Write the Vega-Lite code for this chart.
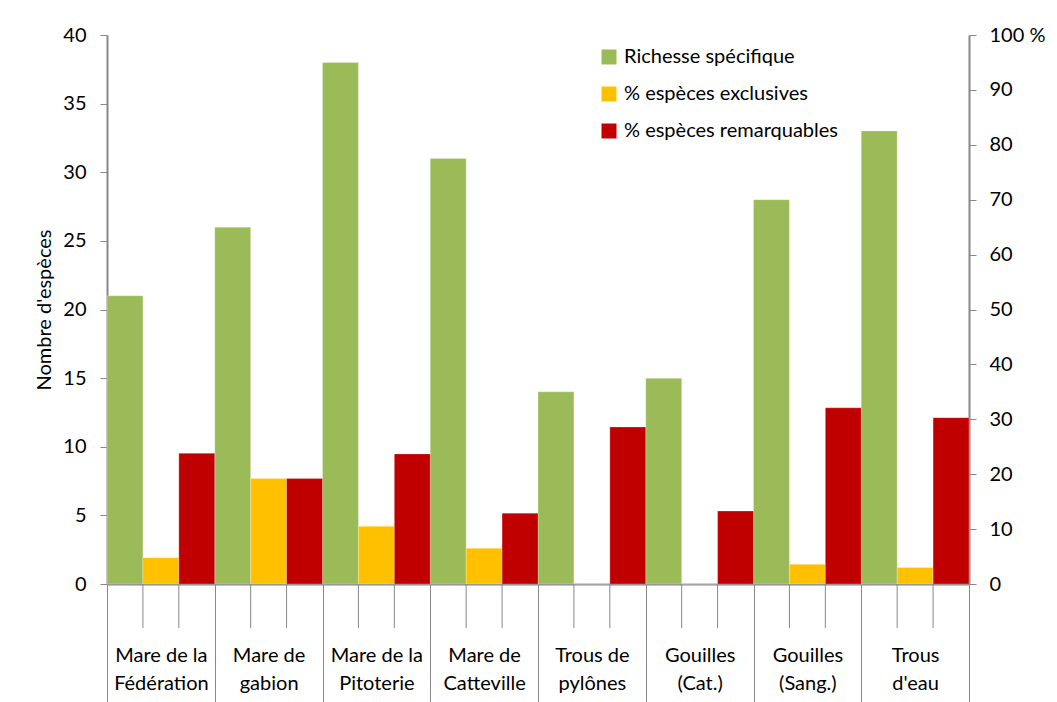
{
  "$schema": "https://vega.github.io/schema/vega-lite/v6.json",
  "width": 862,
  "height": 549,
  "autosize": {"type": "none"},
  "padding": {"left": 107, "top": 35, "right": 88, "bottom": 118},
  "background": "white",
  "config": {
    "font": "Lato",
    "view": {"stroke": null},
    "axis": {"labelColor": "#000", "titleColor": "#000", "domainColor": "#888", "tickColor": "#888", "grid": false, "labelFont": "Lato", "titleFont": "Lato"}
  },
  "data": {
    "values": [
      {"site": "Mare de la|Fédération", "serie": "Richesse spécifique", "valeur": 21},
      {"site": "Mare de la|Fédération", "serie": "% espèces  exclusives", "valeur": 4.8},
      {"site": "Mare de la|Fédération", "serie": "% espèces  remarquables", "valeur": 23.8},
      {"site": "Mare de|gabion", "serie": "Richesse spécifique", "valeur": 26},
      {"site": "Mare de|gabion", "serie": "% espèces  exclusives", "valeur": 19.2},
      {"site": "Mare de|gabion", "serie": "% espèces  remarquables", "valeur": 19.2},
      {"site": "Mare de la|Pitoterie", "serie": "Richesse spécifique", "valeur": 38},
      {"site": "Mare de la|Pitoterie", "serie": "% espèces  exclusives", "valeur": 10.5},
      {"site": "Mare de la|Pitoterie", "serie": "% espèces  remarquables", "valeur": 23.7},
      {"site": "Mare de|Catteville", "serie": "Richesse spécifique", "valeur": 31},
      {"site": "Mare de|Catteville", "serie": "% espèces  exclusives", "valeur": 6.5},
      {"site": "Mare de|Catteville", "serie": "% espèces  remarquables", "valeur": 12.9},
      {"site": "Trous de|pylônes", "serie": "Richesse spécifique", "valeur": 14},
      {"site": "Trous de|pylônes", "serie": "% espèces  exclusives", "valeur": 0},
      {"site": "Trous de|pylônes", "serie": "% espèces  remarquables", "valeur": 28.6},
      {"site": "Gouilles|(Cat.)", "serie": "Richesse spécifique", "valeur": 15},
      {"site": "Gouilles|(Cat.)", "serie": "% espèces  exclusives", "valeur": 0},
      {"site": "Gouilles|(Cat.)", "serie": "% espèces  remarquables", "valeur": 13.3},
      {"site": "Gouilles|(Sang.)", "serie": "Richesse spécifique", "valeur": 28},
      {"site": "Gouilles|(Sang.)", "serie": "% espèces  exclusives", "valeur": 3.6},
      {"site": "Gouilles|(Sang.)", "serie": "% espèces  remarquables", "valeur": 32.1},
      {"site": "Trous|d'eau", "serie": "Richesse spécifique", "valeur": 33},
      {"site": "Trous|d'eau", "serie": "% espèces  exclusives", "valeur": 3.0},
      {"site": "Trous|d'eau", "serie": "% espèces  remarquables", "valeur": 30.3}
    ]
  },
  "encoding": {
    "x": {
      "field": "site",
      "type": "nominal",
      "sort": null,
      "scale": {"paddingInner": 0, "paddingOuter": 0},
      "axis": {
        "title": null,
        "labelAngle": 0,
        "tickBand": "extent",
        "tickSize": 118,
        "tickWidth": 1,
        "domainWidth": 2,
        "labelExpr": "split(datum.label, '|')",
        "labelFontSize": 20,
        "labelLineHeight": 28,
        "labelPadding": -57,
        "labelBaseline": "top",
        "labelOverlap": false,
        "labelBound": false,
        "labelLimit": 0
      }
    },
    "color": {
      "field": "serie",
      "type": "nominal",
      "scale": {"domain": ["Richesse spécifique", "% espèces  exclusives", "% espèces  remarquables"], "range": ["#9BBB59", "#FFC000", "#C00000"]},
      "legend": {
        "title": null,
        "orient": "none",
        "legendX": 492,
        "legendY": 12,
        "symbolType": "square",
        "symbolSize": 225,
        "symbolStrokeWidth": 0,
        "labelFontSize": 20,
        "labelFont": "Lato",
        "labelColor": "#000",
        "labelOffset": 5,
        "rowPadding": 17,
        "labelLimit": 0
      }
    }
  },
  "layer": [
    {
      "transform": [{"filter": "datum.serie == 'Richesse spécifique'"}],
      "mark": {"type": "bar", "stroke": "#fff", "strokeWidth": 0.5, "strokeOpacity": 0.5},
      "encoding": {
        "xOffset": {
          "field": "serie",
          "type": "nominal",
          "scale": {"domain": ["Richesse spécifique", "% espèces  exclusives", "% espèces  remarquables"], "paddingInner": 0, "paddingOuter": 0}
        },
        "y": {
          "field": "valeur",
          "type": "quantitative",
          "scale": {"domain": [0, 40]},
          "axis": {
            "orient": "left",
            "values": [0, 5, 10, 15, 20, 25, 30, 35, 40],
            "title": "Nombre d'espèces",
            "titleFontSize": 20,
            "titleFontWeight": "normal",
            "titlePadding": 8,
            "labelFontSize": 20,
            "labelPadding": 14,
            "tickSize": 7,
            "domainWidth": 2
          }
        }
      }
    },
    {
      "transform": [{"filter": "datum.serie != 'Richesse spécifique'"}],
      "encoding": {
        "y": {
          "field": "valeur",
          "type": "quantitative",
          "scale": {"domain": [0, 100]},
          "axis": {
            "orient": "right",
            "values": [0, 10, 20, 30, 40, 50, 60, 70, 80, 90, 100],
            "title": null,
            "labelFontSize": 20,
            "labelPadding": 13,
            "tickSize": 7,
            "domainWidth": 2,
            "labelExpr": "datum.value == 100 ? '100 %' : datum.label"
          }
        }
      },
      "layer": [
        {
          "mark": {"type": "bar", "stroke": "#fff", "strokeWidth": 0.5, "strokeOpacity": 0.5},
          "encoding": {
            "xOffset": {
              "field": "serie",
              "type": "nominal",
              "scale": {"domain": ["Richesse spécifique", "% espèces  exclusives", "% espèces  remarquables"], "paddingInner": 0, "paddingOuter": 0}
            }
          }
        },
        {
          "transform": [{"filter": "datum.serie == '% espèces  exclusives'"}],
          "mark": {"type": "rule", "color": "#888", "strokeWidth": 1, "y2Offset": 44},
          "encoding": {
            "x": {"field": "site", "type": "nominal", "sort": null, "bandPosition": 0.33333},
            "y": {"datum": 0},
            "y2": {"datum": 0},
            "color": {"value": "#888"}
          }
        },
        {
          "transform": [{"filter": "datum.serie == '% espèces  remarquables'"}],
          "mark": {"type": "rule", "color": "#888", "strokeWidth": 1, "y2Offset": 44},
          "encoding": {
            "x": {"field": "site", "type": "nominal", "sort": null, "bandPosition": 0.66667},
            "y": {"datum": 0},
            "y2": {"datum": 0},
            "color": {"value": "#888"}
          }
        }
      ]
    }
  ],
  "resolve": {"scale": {"y": "independent"}}
}
